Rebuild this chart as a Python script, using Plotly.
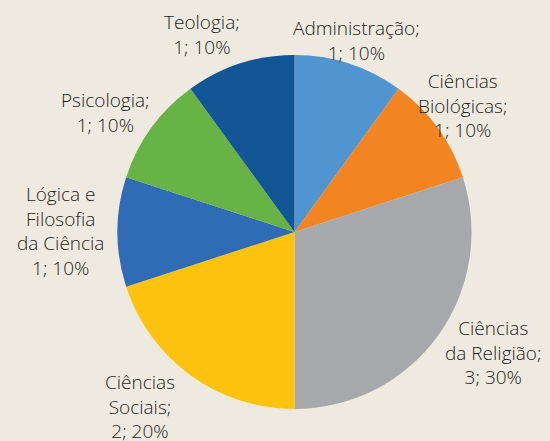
import plotly.graph_objects as go

categories = ["Administração", "Ciências Biológicas", "Ciências da Religião",
              "Ciências Sociais", "Lógica e Filosofia da Ciência", "Psicologia", "Teologia"]
values = [1, 1, 3, 2, 1, 1, 1]
label_text = ["Administração;", "Ciências<br>Biológicas;", "Ciências<br>da Religião;",
              "Ciências<br>Sociais;", "Lógica e<br>Filosofia<br>da Ciência", "Psicologia;", "Teologia;"]
colors = ["#5195d0", "#f28522", "#a6a8ab", "#fdc30f", "#2f6cb5", "#67b346", "#125695"]
# label centre positions in pixels (x, y from top)
label_pos = [(356, 40), (462, 106), (493, 352), (140, 406), (60, 231), (105, 112), (202, 34)]

W, H = 550, 441
cx, cy, r = 294.5, 232, 177

fig = go.Figure(go.Pie(
    labels=categories, values=values, sort=False, direction="clockwise", rotation=0,
    marker=dict(colors=colors, line=dict(width=0)), textinfo="none", hoverinfo="label+value+percent",
    domain=dict(x=[(cx - r) / W, (cx + r) / W], y=[(H - cy - r) / H, (H - cy + r) / H]),
    showlegend=False,
))

total = sum(values)
for lab, v, (px, py) in zip(label_text, values, label_pos):
    pct = round(100 * v / total)
    fig.add_annotation(text=f"{lab}<br>{v}; {pct}%", x=px / W, y=1 - py / H, xref="paper", yref="paper",
                       xanchor="center", yanchor="middle", showarrow=False, align="center",
                       font=dict(family="Open Sans", size=19, color="#231f20", weight=350))

fig.update_layout(width=W, height=H, margin=dict(l=0, r=0, t=0, b=0),
                  paper_bgcolor="#efeae0", plot_bgcolor="#efeae0")
fig.write_html("out.html", config={"displayModeBar": False},
               post_script="document.body.style.margin='0';document.body.style.overflow='hidden';")
